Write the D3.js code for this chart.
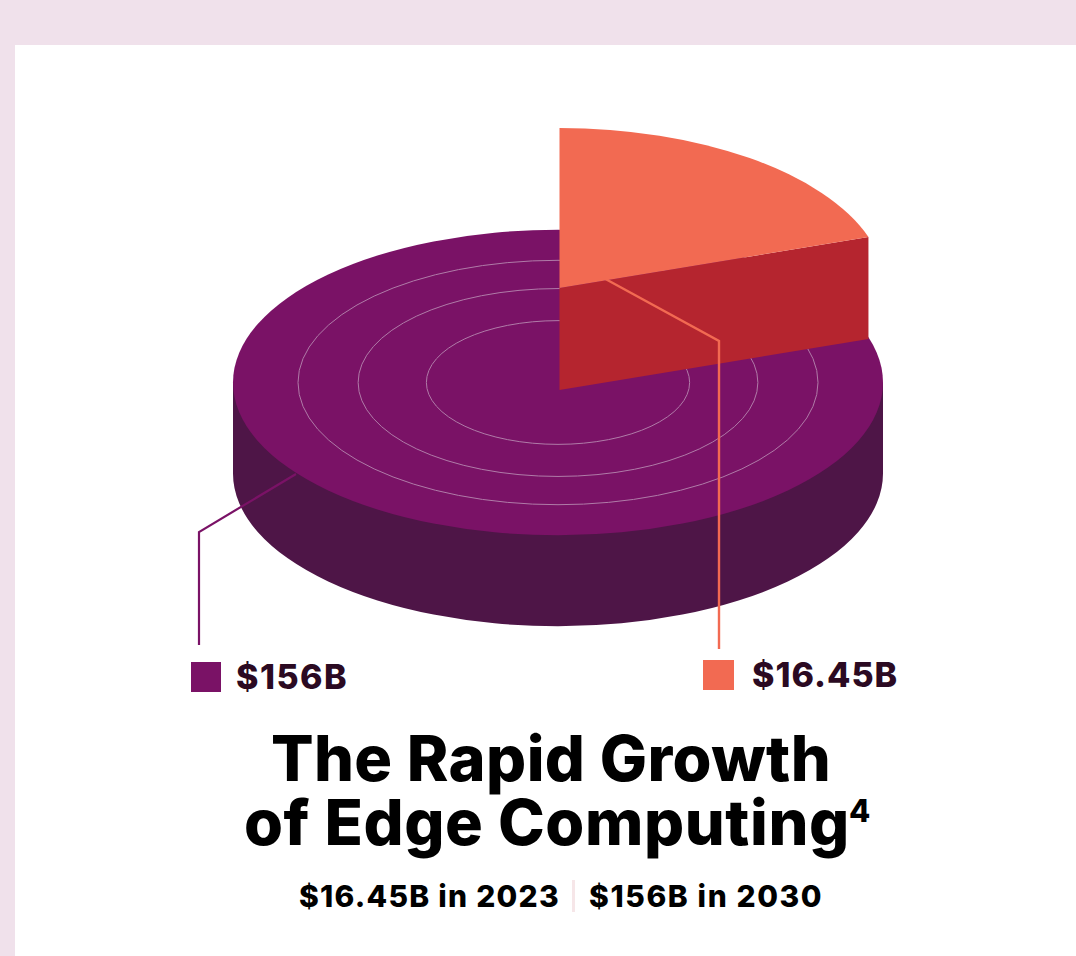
<!DOCTYPE html>
<html>
<head>
<meta charset="utf-8">
<script src="https://cdn.jsdelivr.net/npm/d3@7/dist/d3.min.js"></script>
<style>
  html, body { margin: 0; padding: 0; background: #f0e1eb; overflow: hidden; }
  svg { display: block; }
  text { font-family: Inter, "Noto Sans", sans-serif; font-weight: 800; }
</style>
</head>
<body>
<svg id="chart" width="1076" height="956"></svg>
<script>
// Market size figures, in billions of dollars
const categories = ["2030", "2023"];
const values = [156, 16.45];
const valueLabels = ["$156B", "$16.45B"];
const colors = ["#7a1266", "#f26a52"];
// Concentric guide rings, as a share of the disc radius
const ringLevels = [0.405, 0.615, 0.80];

const W = 1076, H = 956;
const svg = d3.select("#chart");

svg.append("rect").attr("width", W).attr("height", H).attr("fill", "#f0e1eb");
svg.append("rect").attr("x", 15).attr("y", 45).attr("width", W - 15).attr("height", H - 45).attr("fill", "#fff");

// Disc geometry
const cx = 558, cy = 382.5, depth = 91;
const radius = d3.scaleLinear().domain([0, 1]).range([0, 325]);
const tilt = 0.47;
const R = radius(1), Ry = R * tilt;

// Sweep is compressed with a power scale so the small slice stays legible
const sweep = d3.scalePow().exponent(0.621).domain([0, 1]).range([0, 1]);
const pie = d3.pie().sort(null).value(d => sweep(d)).startAngle(0).endAngle(2 * Math.PI);
const slices = pie([values[1], values[0]]);
const sliceArc = slices[0];

// Side wall of the disc
svg.append("path")
  .attr("d", `M${cx - R},${cy} L${cx - R},${cy + depth}
              A${R},${Ry} 0 0 0 ${cx + R},${cy + depth} L${cx + R},${cy} Z`)
  .attr("fill", "#4e1547");

// Top face of the disc
const arc = d3.arc().innerRadius(0);
svg.append("path")
  .attr("d", arc({ outerRadius: R, startAngle: 0, endAngle: 2 * Math.PI }))
  .attr("transform", `translate(${cx},${cy}) scale(1,${tilt})`)
  .attr("fill", colors[0]);

// Guide rings
svg.selectAll("ellipse.ring").data(ringLevels).join("ellipse")
  .attr("class", "ring")
  .attr("cx", cx).attr("cy", cy)
  .attr("rx", d => radius(d)).attr("ry", d => radius(d) * tilt)
  .attr("fill", "none").attr("stroke", "#b07ba8").attr("stroke-width", 1);

// Lifted slice
const liftX = 559.5, liftTop = 288, liftH = 102;
const sliceRy = 160;
const edgeX = liftX + 326 * Math.sin(sliceArc.endAngle);
const edgeY = liftTop - sliceRy * Math.cos(sliceArc.endAngle);

svg.append("path")
  .attr("d", `M${liftX},${liftTop} L${edgeX},${edgeY} L${edgeX},${edgeY + liftH} L${liftX},${liftTop + liftH} Z`)
  .attr("fill", "#b5252f");

// Leader for the slice runs beneath its top face
svg.append("path")
  .attr("d", d3.line()([[600, 276], [719, 341], [719, 649]]))
  .attr("fill", "none").attr("stroke", colors[1]).attr("stroke-width", 2.4);

svg.append("path")
  .attr("d", arc({ outerRadius: 326, startAngle: sliceArc.startAngle, endAngle: sliceArc.endAngle }))
  .attr("transform", `translate(${liftX},${liftTop}) scale(1,${sliceRy / 326})`)
  .attr("fill", colors[1]);

// Leader for the disc
svg.append("path")
  .attr("d", d3.line()([[296, 474], [199, 532], [199, 645]]))
  .attr("fill", "none").attr("stroke", colors[0]).attr("stroke-width", 2.2);

// Legend
const legend = [
  { x: 191, y: 662, w: 30, tx: 236, ty: 689, ls: 1.5 },
  { x: 703, y: 660, w: 31, tx: 752, ty: 687, ls: 1 }
];
legend.forEach((l, i) => {
  svg.append("rect").attr("x", l.x).attr("y", l.y).attr("width", l.w).attr("height", 30).attr("fill", colors[i]);
  svg.append("text").attr("x", l.tx).attr("y", l.ty)
    .attr("font-size", 34).attr("letter-spacing", l.ls).attr("fill", "#2b0a22")
    .text(valueLabels[i]);
});

// Title
svg.append("text").attr("x", 551).attr("y", 781).attr("text-anchor", "middle")
  .attr("font-size", 63).attr("letter-spacing", 0.4).attr("fill", "#000")
  .text("The Rapid Growth");
svg.append("text").attr("x", 244).attr("y", 845)
  .attr("font-size", 63).attr("letter-spacing", 0.6).attr("fill", "#000")
  .text("of Edge Computing");
svg.append("text").attr("x", 849).attr("y", 822)
  .attr("font-size", 31).attr("letter-spacing", 0).attr("fill", "#000").text("4");

// Subtitle
svg.append("text").attr("x", 299).attr("y", 907)
  .attr("font-size", 30).attr("letter-spacing", 1.25).attr("fill", "#000")
  .text(`${valueLabels[1]} in ${categories[1]}`);
svg.append("rect").attr("x", 572).attr("y", 880).attr("width", 3).attr("height", 32).attr("fill", "#f6e6e8");
svg.append("text").attr("x", 589).attr("y", 907)
  .attr("font-size", 30).attr("letter-spacing", 1.6).attr("fill", "#000")
  .text(`${valueLabels[0]} in ${categories[0]}`);
</script>
</body>
</html>
